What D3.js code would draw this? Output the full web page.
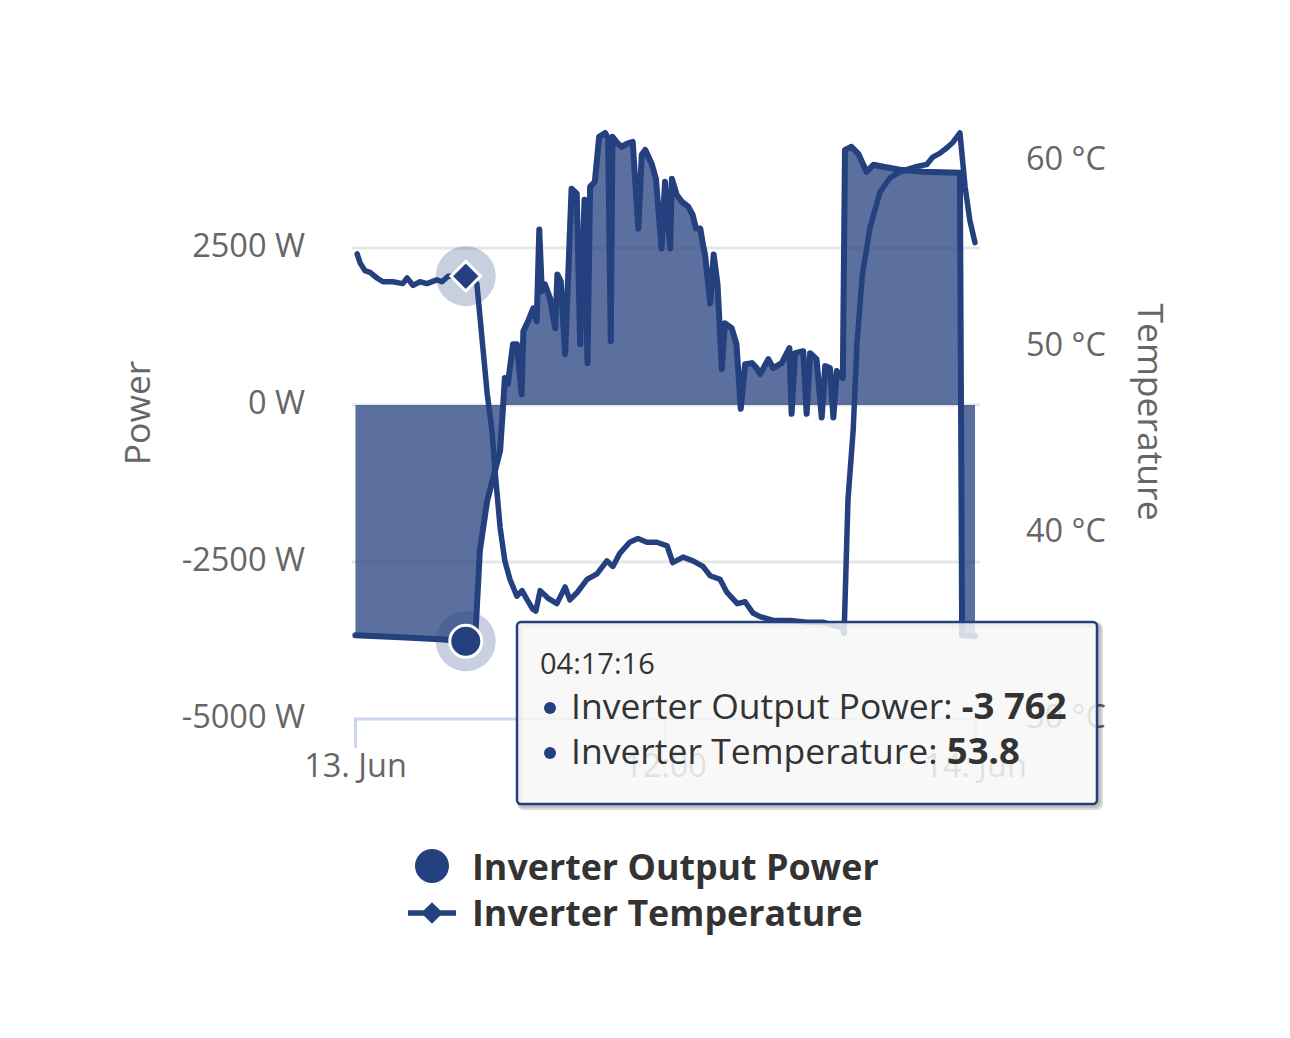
<!DOCTYPE html>
<html>
<head>
<meta charset="utf-8">
<script src="https://cdn.jsdelivr.net/npm/d3@7"></script>
<style>
  body { margin: 0; background: #fff; }
  svg { font-family: "Open Sans", sans-serif; }
</style>
</head>
<body>
<script>
// Inverter data for 13 June ("24:00" = 14 Jun 00:00)
var powerTimes = ["00:01","01:45","03:17","04:17:16","04:39","04:50","05:07","05:21","05:37","05:44","05:48","05:55","06:07","06:16","06:27","06:31","06:42","06:54","07:02","07:08","07:14","07:21","07:33","07:45","07:50","07:58","08:08","08:23","08:35","08:43","08:53","09:00","09:06","09:17","09:27","09:41","09:48","09:54","09:58","10:11","10:19","10:31","10:45","10:58","11:06","11:14","11:29","11:39","11:52","12:00","12:12","12:16","12:27","12:39","12:54","13:04","13:12","13:22","13:28","13:33","13:45","13:53","14:02","14:12","14:19","14:35","14:46","14:56","15:06","15:22","15:33","15:41","16:00","16:11","16:31","16:49","16:54","17:02","17:21","17:29","17:37","17:52","18:04","18:12","18:23","18:31","18:39","18:53","18:58","19:13","19:29","19:48","20:04","20:27","21:06","22:00","23:25","23:30","24:00"];
var powerValues = [-3667,-3698,-3730,-3762,-3746,-2317,-1524,-1159,-730,-16,429,333,968,968,170,1175,1333,1540,1333,2793,1810,1921,1698,1222,2079,1968,810,3444,3365,968,3270,667,3476,3556,4270,4333,4238,1016,4270,4159,4111,4159,4190,2810,3984,4063,3841,3603,2492,3556,2492,3603,3349,3238,3159,3032,2810,2810,2556,2397,1619,2397,1921,571,1302,1222,968,-60,651,667,587,492,730,587,667,905,-140,825,857,-140,825,730,-200,619,587,-200,540,429,4063,4111,4000,3714,3825,3794,3746,3714,3698,-3667,-3683];

var tempTimes = ["00:05","00:12","00:23","00:35","00:51","01:05","01:28","01:51","02:01","02:15","02:31","02:47","03:10","03:22","03:36","04:17:16","04:43","05:07","05:18","05:25","05:37","05:48","06:00","06:16","06:28","06:40","06:53","07:00","07:10","07:28","07:49","08:08","08:19","08:36","08:59","09:22","09:45","09:59","10:15","10:38","10:57","11:18","11:41","12:05","12:18","12:42","13:05","13:28","13:45","14:08","14:24","14:48","15:06","15:24","15:41","16:11","16:50","17:30","18:07","18:51","18:56","19:05","19:17","19:26","19:38","19:56","20:19","20:43","21:06","21:45","22:08","22:22","22:38","22:55","23:09","23:25","23:37","23:48","24:00"];
var tempValues = [55.0,54.5,54.1,54.0,53.7,53.5,53.5,53.4,53.7,53.3,53.5,53.4,53.6,53.5,53.8,53.8,53.4,47.5,45.5,43.4,40.3,38.5,37.5,36.6,36.9,36.4,35.9,35.8,36.9,36.5,36.2,37.1,36.4,36.8,37.5,37.8,38.5,38.2,38.9,39.5,39.7,39.5,39.5,39.3,38.4,38.7,38.5,38.2,37.7,37.5,36.8,36.2,36.3,35.7,35.5,35.3,35.3,35.2,35.2,34.9,34.6,41.8,45.5,50.2,53.8,56.4,58.3,59.1,59.4,59.7,59.8,60.2,60.4,60.7,61.0,61.5,58.6,56.8,55.6];

var powerTicks = [-5000, -2500, 0, 2500];
var tempTicks = [30, 40, 50, 60];
var seriesNames = ["Inverter Output Power", "Inverter Temperature"];
var hoverIndex = 3;

(function(){

var width = 1290, height = 1038;
var color = "#24407f";

function toDate(s){
    var p = s.split(":").map(Number);
    return new Date(2024, 5, 13, p[0], p[1], p[2] || 0);
}

var power = powerTimes.map(function(t, i){ return {t: toDate(t), v: powerValues[i]}; });
var temp = tempTimes.map(function(t, i){ return {t: toDate(t), v: tempValues[i]}; });

var svg = d3.select("body").append("svg")
    .attr("width", width)
    .attr("height", height);

//plot frame
var plotLeft = 352, plotRight = 980, plotTop = 91, plotBottom = 719;

var x = d3.scaleTime()
    .domain([new Date(2024, 5, 13), new Date(2024, 5, 14)])
    .range([355, 975]);
var yP = d3.scaleLinear().domain([-5000, 5000]).range([plotBottom, plotTop]);
var yT = d3.scaleLinear().domain([30, 63.75]).range([plotBottom, plotTop]);

//grid lines
svg.append("g").selectAll("line")
    .data(powerTicks.filter(function(d){ return d > -5000; }))
    .enter().append("line")
    .attr("x1", plotLeft).attr("x2", plotRight)
    .attr("y1", function(d){ return yP(d); })
    .attr("y2", function(d){ return yP(d); })
    .attr("stroke", "#e6e6e6")
    .attr("stroke-width", 3);

//x axis
var xTicks = [new Date(2024, 5, 13), new Date(2024, 5, 13, 12), new Date(2024, 5, 14)];
var xAxis = d3.axisBottom(x)
    .tickValues(xTicks)
    .tickSize(29)
    .tickPadding(4)
    .tickFormat(function(d){
        return d.getHours() === 12 ? "12:00" : d3.timeFormat("%-d. %b")(d);
    });
var gx = svg.append("g")
    .attr("transform", "translate(0," + plotBottom + ")")
    .call(xAxis);
gx.select(".domain").remove();
gx.selectAll(".tick line").attr("stroke", "#ccd6eb").attr("stroke-width", 3);
gx.selectAll(".tick text")
    .attr("fill", "#666666")
    .attr("font-size", 32.5)
    .attr("font-family", "Open Sans")
    .attr("y", 0).attr("dy", 58);
svg.append("line")
    .attr("x1", plotLeft + 2).attr("x2", plotRight)
    .attr("y1", plotBottom).attr("y2", plotBottom)
    .attr("stroke", "#ccd6eb").attr("stroke-width", 3);

//left y axis labels
svg.append("g").selectAll("text")
    .data(powerTicks)
    .enter().append("text")
    .attr("x", 305)
    .attr("y", function(d){ return yP(d) + 9; })
    .attr("text-anchor", "end")
    .attr("font-size", 32.5)
    .attr("fill", "#666666")
    .text(function(d){ return d + " W"; });

//right y axis labels
svg.append("g").selectAll("text")
    .data(tempTicks)
    .enter().append("text")
    .attr("x", 1026)
    .attr("y", function(d){ return yT(d) + 9; })
    .attr("font-size", 32.5)
    .attr("fill", "#666666")
    .text(function(d){ return d + " \u00b0C"; });

//axis titles
svg.append("text")
    .attr("transform", "translate(150,413) rotate(-90)")
    .attr("text-anchor", "middle")
    .attr("font-size", 35.5)
    .attr("fill", "#666666")
    .text("Power");
svg.append("text")
    .attr("transform", "translate(1138,412) rotate(90)")
    .attr("text-anchor", "middle")
    .attr("font-size", 35.5)
    .attr("fill", "#666666")
    .text("Temperature");

//power area + line
var area = d3.area()
    .x(function(d){ return x(d.t); })
    .y0(yP(0))
    .y1(function(d){ return yP(d.v); });
var powerLine = d3.line()
    .x(function(d){ return x(d.t); })
    .y(function(d){ return yP(d.v); });
var tempLine = d3.line()
    .x(function(d){ return x(d.t); })
    .y(function(d){ return yT(d.v); });

svg.append("path")
    .datum(power)
    .attr("d", area)
    .attr("fill", color)
    .attr("fill-opacity", 0.75);
svg.append("path")
    .datum(power)
    .attr("d", powerLine)
    .attr("fill", "none")
    .attr("stroke", color)
    .attr("stroke-width", 6)
    .attr("stroke-linejoin", "round")
    .attr("stroke-linecap", "round");

//temperature line
svg.append("path")
    .datum(temp)
    .attr("d", tempLine)
    .attr("fill", "none")
    .attr("stroke", color)
    .attr("stroke-width", 5.5)
    .attr("stroke-linejoin", "round")
    .attr("stroke-linecap", "round");

//hover markers
var hp = power[hoverIndex], ht = temp[15];
var px = x(hp.t), py = yP(hp.v);
svg.append("circle").attr("cx", px).attr("cy", py).attr("r", 30)
    .attr("fill", color).attr("fill-opacity", 0.25);
svg.append("circle").attr("cx", px).attr("cy", py).attr("r", 16)
    .attr("fill", color).attr("stroke", "#fff").attr("stroke-width", 3);
var tx = x(ht.t), ty = yT(ht.v);
svg.append("circle").attr("cx", tx).attr("cy", ty).attr("r", 30)
    .attr("fill", color).attr("fill-opacity", 0.25);
svg.append("path")
    .attr("d", d3.symbol().type(d3.symbolDiamond2).size(560)())
    .attr("transform", "translate(" + tx + "," + ty + ")")
    .attr("fill", color).attr("stroke", "#fff").attr("stroke-width", 3);

//legend
var legend = svg.append("g");
legend.append("circle").attr("cx", 432).attr("cy", 866).attr("r", 17).attr("fill", color);
legend.append("line").attr("x1", 408).attr("x2", 456).attr("y1", 913).attr("y2", 913)
    .attr("stroke", color).attr("stroke-width", 5.5);
legend.append("path")
    .attr("d", d3.symbol().type(d3.symbolDiamond2).size(300)())
    .attr("transform", "translate(432,913)")
    .attr("fill", color);
legend.selectAll("text")
    .data(seriesNames)
    .enter().append("text")
    .attr("x", 472)
    .attr("y", function(d, i){ return 880 + i * 46; })
    .attr("font-size", 35.8)
    .attr("font-weight", "bold")
    .attr("fill", "#333333")
    .text(function(d){ return d; });

//tooltip
var tip = svg.append("g");
var bx = 517, by = 622, bw = 580, bh = 182;
[3, 2, 1].forEach(function(o){
    tip.append("rect")
        .attr("x", bx + o).attr("y", by + o).attr("width", bw).attr("height", bh).attr("rx", 4)
        .attr("fill", "none").attr("stroke", "#000").attr("stroke-opacity", 0.05 * o)
        .attr("stroke-width", 2 * o);
});
tip.append("rect")
    .attr("x", bx).attr("y", by).attr("width", bw).attr("height", bh).attr("rx", 4)
    .attr("fill", "#f7f7f7").attr("fill-opacity", 0.85)
    .attr("stroke", color).attr("stroke-width", 2.5);
tip.append("text")
    .attr("x", 540).attr("y", 674)
    .attr("font-size", 29).attr("fill", "#333333")
    .text("04:17:16");
var rows = [
    {name: seriesNames[0], value: d3.format(",")(hp.v).replace(/,/g, " ").replace("\u2212", "-")},
    {name: seriesNames[1], value: ht.v.toFixed(1)}
];
rows.forEach(function(r, i){
    var yy = 719 + i * 45;
    tip.append("circle").attr("cx", 550).attr("cy", yy - 11).attr("r", 6).attr("fill", color);
    var t = tip.append("text").attr("x", 571).attr("y", yy)
        .attr("font-size", 35.5).attr("fill", "#333333");
    t.append("tspan").text(r.name + ": ");
    t.append("tspan").attr("font-weight", "bold").attr("font-size", 36.5).text(r.value);
});

})();
</script>
</body>
</html>
